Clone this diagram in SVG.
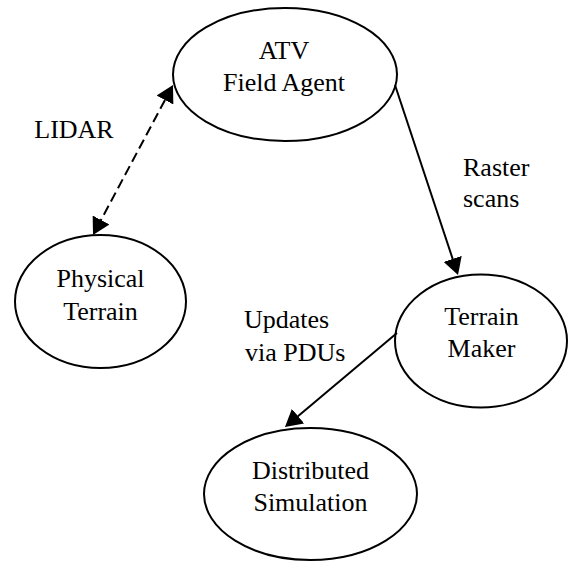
<svg xmlns="http://www.w3.org/2000/svg" width="568" height="563" viewBox="0 0 568 563">
<style>
.node ellipse{fill:#fff;stroke:#000;stroke-width:2}
.c{text-anchor:middle}
.edge{stroke:#000;stroke-width:2;fill:none}
.dash{stroke-dasharray:10,5}
</style>
<defs>
<marker id="ah" markerWidth="17" markerHeight="19" refX="9" refY="9.5" orient="auto-start-reverse" markerUnits="userSpaceOnUse">
<path d="M0,0 L17,9.5 L0,19 z" fill="#000"/>
</marker>
</defs>
<rect width="568" height="563" fill="#fff"/>
<g font-family="'Liberation Serif', 'DejaVu Serif', serif" font-size="26" fill="#000">
<g id="atv" class="node">
<ellipse cx="285" cy="74.5" rx="112" ry="66.5"/>
<text class="c" x="284" y="59">ATV</text>
<text class="c" x="284" y="91">Field Agent</text>
</g>
<g id="physical" class="node">
<ellipse cx="100.5" cy="301.5" rx="85.5" ry="66.5"/>
<text class="c" x="100.5" y="287">Physical</text>
<text class="c" x="100.5" y="320">Terrain</text>
</g>
<g id="maker" class="node">
<ellipse cx="481" cy="341" rx="86" ry="66.5"/>
<text class="c" x="481.5" y="325">Terrain</text>
<text class="c" x="481.5" y="357">Maker</text>
</g>
<g id="dist" class="node">
<ellipse cx="310.5" cy="494" rx="106.5" ry="66"/>
<text class="c" x="310.5" y="479">Distributed</text>
<text class="c" x="310.5" y="511">Simulation</text>
</g>
<g id="connectors">
<path class="edge dash" d="M96.8,227.9 L169.2,92.1" marker-start="url(#ah)" marker-end="url(#ah)"/>
<path class="edge" d="M395,85 L455.5,267.4" marker-end="url(#ah)"/>
<path class="edge" d="M397,333 L291.1,421.9" marker-end="url(#ah)"/>
</g>
<g id="labels">
<text class="c" x="74" y="138">LIDAR</text>
<text x="463" y="176">Raster</text>
<text x="463" y="207">scans</text>
<text x="244" y="328">Updates</text>
<text x="245" y="361">via PDUs</text>
</g>
</g>
</svg>
